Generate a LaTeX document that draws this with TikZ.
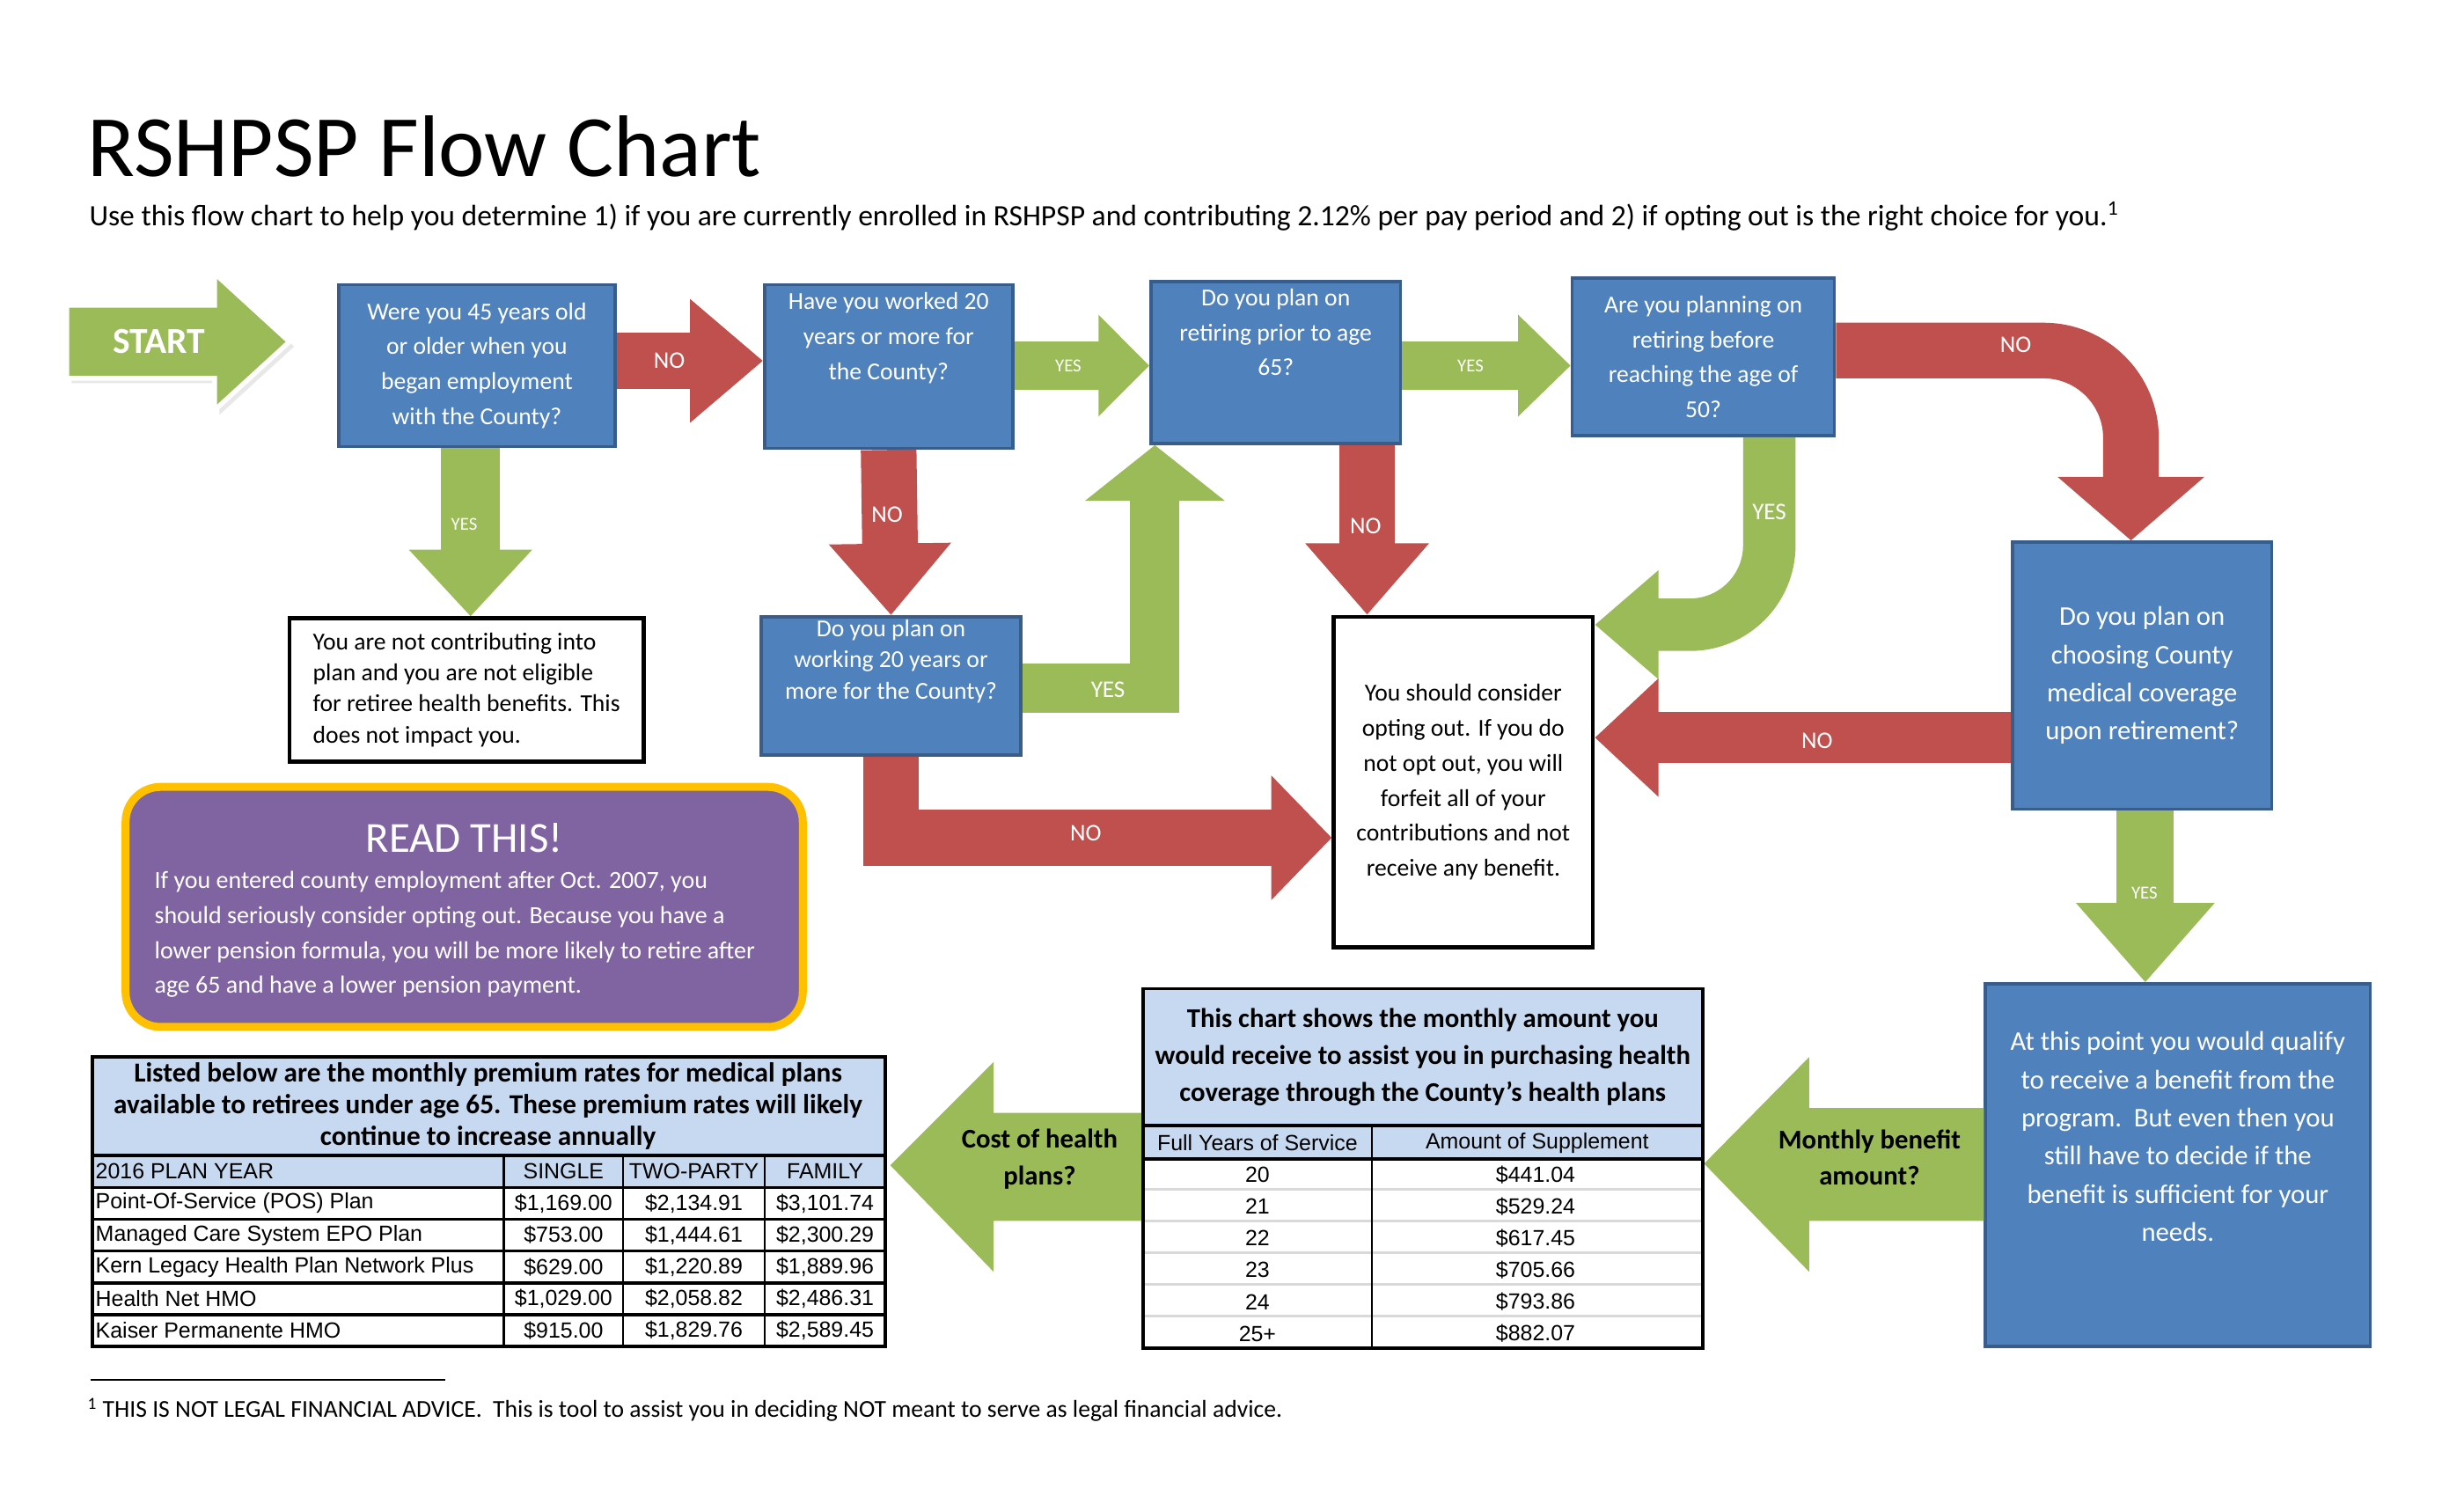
\documentclass[tikz,border=0pt]{standalone}
\usepackage{fontspec}
\setmainfont{Carlito}
\newfontfamily\arialf{Liberation Sans}
\usetikzlibrary{arrows.meta,calc}
\definecolor{qblue}{HTML}{4F81BD}
\definecolor{qborder}{HTML}{385D8A}
\definecolor{rd}{HTML}{C0504D}
\definecolor{gr}{HTML}{9BBB59}
\definecolor{pu}{HTML}{8064A2}
\definecolor{orng}{HTML}{FFC000}
\definecolor{lb}{HTML}{C6D9F1}
\tikzset{
 q/.style={draw=qborder,line width=2pt,fill=qblue,text=white,align=center,inner sep=2pt,font=\fontsize{15.3}{22}\selectfont},
 wb/.style={draw=black,line width=2.5pt,fill=white,align=center,inner sep=2pt,font=\fontsize{15.3}{22}\selectfont},
 rarr/.style={draw=rd,line width=35pt,-{Triangle[length=46pt,width=75pt]}},
 lbl/.style={text=white,font=\fontsize{15}{16}\selectfont},
 slbl/.style={text=white,font=\fontsize{11.5}{12}\selectfont},
 cell/.style={font=\arialf\fontsize{13.8}{15}\selectfont,inner sep=0},
}
\begin{document}
\begin{tikzpicture}[x=1pt,y=-1pt]
\useasboundingbox (0,0) rectangle (1550,941);
\fill[white] (0,0) rectangle (1550,941);
% title
\node[anchor=west,inner sep=0,font=\fontsize{55}{60}\selectfont] (title) at (55,92) {RSHPSP Flow Chart};
\node[anchor=west,inner sep=0,font=\fontsize{18.6}{20}\selectfont] (sub) at (56,136) {Use this flow chart to help you determine 1) if you are currently enrolled in RSHPSP and contributing 2.12\% per pay period and 2) if opting out is the right choice for you.\textsuperscript{1}};
% start arrow
\fill[gray!18] (45,195) -- (138,195) -- (138,175) -- (185,218) -- (138,261) -- (138,241) -- (45,241) -- cycle;
\filldraw[fill=gr,draw=white,line width=3pt] (42,192) -- (135,192) -- (135,172) -- (182,215) -- (135,258) -- (135,238) -- (42,238) -- cycle;
\node[text=white,font=\bfseries\fontsize{23}{24}\selectfont] (start) at (100,215) {START};
% boxes
\node[q,minimum width=174pt,minimum height=102pt] (b1) at (300,230) {Were you 45 years old\\or older when you\\began employment\\with the County?};
\node[q,minimum width=156pt,minimum height=103pt] (b2) at (559,230.5) {Have you worked 20\\years or more for\\the County?\\[16pt]};
\node[q,minimum width=157pt,minimum height=102pt] (b3) at (802.5,228) {Do you plan on\\retiring prior to age\\65?\\[16pt]};
\node[q,minimum width=165pt,minimum height=99pt] (b4) at (1071.5,224.5) {Are you planning on\\retiring before\\reaching the age of\\50?};
\node[wb,minimum width=223pt,minimum height=90pt,align=left,font=\fontsize{15.3}{19.5}\selectfont] (b5) at (293.5,434) {You are not contributing into\\plan and you are not eligible\\for retiree health benefits. This\\does not impact you.};
\node[q,minimum width=163pt,minimum height=85pt,font=\fontsize{15.3}{19.5}\selectfont] (b6) at (560.5,431.5) {Do you plan on\\working 20 years or\\more for the County?\\[14pt]};
\node[wb,minimum width=163pt,minimum height=208pt] (b7) at (920.5,492) {You should consider\\opting out. If you do\\not opt out, you will\\forfeit all of your\\contributions and not\\receive any benefit.};
\node[q,minimum width=163pt,minimum height=168pt,font=\fontsize{17}{24}\selectfont] (b8) at (1347.5,425) {Do you plan on\\choosing County\\medical coverage\\upon retirement?};
\node[q,minimum width=242pt,minimum height=228pt,font=\fontsize{17}{24}\selectfont] (b9) at (1370,733) {At this point you would qualify\\to receive a benefit from the\\program.\ \ But even then you\\still have to decide if the\\benefit is sufficient for your\\needs.\\[12pt]};
% connectors
\draw[rarr] ($(b1.east)+(0,-3)$) -- ($(b2.west)+(0,-3.5)$);
\node[lbl] (n1) at (421,227) {NO};
\draw[gr,line width=30pt,-{Triangle[length=32pt,width=62pt]}] ($(b2.east)+(0,-0.5)$) -- ($(b3.west)+(0,2)$);
\node[slbl] (y2) at (672,230) {YES};
\draw[gr,line width=30pt,-{Triangle[length=33pt,width=62pt]}] ($(b3.east)+(0,2)$) -- ($(b4.west)+(0,5.5)$);
\node[slbl] (y3) at (925,230) {YES};
\draw[gr,line width=37pt,-{Triangle[length=42pt,width=75pt]}] ($(b1.south)+(-4,0)$) -- ($(b5.north)+(2.5,0)$);
\node[slbl] (y1) at (292,330) {YES};
\draw[rarr,-{Triangle[length=45pt,width=74pt]}] (b2.south) -- (b6.north);
\node[lbl] (n2) at (558,324) {NO};
\draw[rarr,-{Triangle[length=45pt,width=75pt]}] ($(b3.south)+(57.5,0)$) -- ($(b7.north)+(-60.5,0)$);
\node[lbl] (n3) at (859,331) {NO};
\draw[rarr,rounded corners=55pt,-{Triangle[length=40pt,width=90pt]}] ($(b4.east)+(0,-4)$) -| ($(b8.north)+(-7,0)$);
\node[lbl] (n4) at (1268,217) {NO};
\draw[gr,line width=33pt,rounded corners=50pt,-{Triangle[length=40pt,width=66pt]}] ($(b4.south)+(41.5,0)$) |- ($(b7.east)+(0,-99)$);
\node[lbl] (y4) at (1113,322) {YES};
\draw[gr,line width=31pt,-{Triangle[length=35pt,width=86pt]}] ($(b6.east)+(0,1.5)$) -| ($(b3.south)+(-76,0)$);
\node[lbl] (y5) at (697,434) {YES};
\draw[rarr,line cap=butt,-{Triangle[length=38pt,width=76pt]}] (b6.south) |- ($(b7.west)+(0,35)$);
\node[lbl] (n5) at (683,524) {NO};
\draw[rarr,line width=32pt,-{Triangle[length=40pt,width=72pt]}] ($(b8.west)+(0,39)$) -- ($(b7.east)+(0,-28)$);
\node[lbl] (n6) at (1143,466) {NO};
\draw[gr,line width=36pt,-{Triangle[length=50pt,width=84pt]}] ($(b8.south)+(2,0)$) -- ($(b9.north)+(-20.5,0)$);
\node[slbl] (y6) at (1349,562) {YES};
% purple box
\node[draw=orng,line width=5pt,fill=pu,rounded corners=22pt,minimum width=426pt,minimum height=151pt] (rd) at (292,570.5) {};
\node[text=white,font=\fontsize{27}{28}\selectfont] (rdt) at (292,527) {READ THIS!};
\node[anchor=north west,text=white,align=left,inner sep=0,font=\fontsize{15.5}{22}\selectfont] (rdb) at (97,548) {If you entered county employment after Oct. 2007, you\\should seriously consider opting out. Because you have a\\lower pension formula, you will be more likely to retire after\\age 65 and have a lower pension payment.};
% big left arrows
\fill[gr] (1248,697) -- (1138,697) -- (1138,665) -- (1072,732) -- (1138,800) -- (1138,768) -- (1248,768) -- cycle;
\node[align=center,font=\bfseries\fontsize{17}{23}\selectfont] (mb) at (1176,728) {Monthly benefit\\amount?};
\fill[gr] (719,700) -- (625,700) -- (625,668) -- (560,733) -- (625,800) -- (625,768) -- (719,768) -- cycle;
\node[align=center,font=\bfseries\fontsize{17}{23}\selectfont] (ch) at (654,729) {Cost of health\\plans?};
% table 2
\fill[lb] (719,622) rectangle (1071,729);
\foreach \yy in {748,768,788,808,828}{\draw[gray!30,line width=1.5pt] (720,\yy) -- (1070,\yy);}
\draw[line width=2pt] (719,622) rectangle (1071,848);
\draw[line width=2pt] (719,708) -- (1071,708);
\draw[line width=2.5pt] (719,729) -- (1071,729);
\draw[line width=1.5pt] (863,708) -- (863,848);
\node[align=center,font=\bfseries\fontsize{17}{23}\selectfont] (t2h) at (895,665) {This chart shows the monthly amount you\\would receive to assist you in purchasing health\\coverage through the County’s health plans};
\node[cell] (t2a) at (791,719) {Full Years of Service};
\node[cell] (t2b) at (967,719) {Amount of Supplement};
\foreach \a/\b [count=\i from 0] in {20/\$441.04,21/\$529.24,22/\$617.45,23/\$705.66,24/\$793.86,25+/\$882.07}{
 \node[cell] at (791,739+20*\i) {\a};
 \node[cell] at (966,739+20*\i) {\b};}
% table 1
\fill[lb] (58,665) rectangle (557,747);
\draw[line width=2pt] (58,665) rectangle (557,847);
\foreach \yy in {727,747,767,787,807,827}{\draw[line width=2pt] (58,\yy) -- (557,\yy);}
\foreach \xx in {317,392,481}{\draw[line width=1.5pt] (\xx,727) -- (\xx,847);}
\node[align=center,font=\bfseries\fontsize{17.3}{20}\selectfont] (t1h) at (307,696) {Listed below are the monthly premium rates for medical plans\\available to retirees under age 65. These premium rates will likely\\continue to increase annually};
\foreach \p/\s/\t/\f [count=\i from 0] in {{2016 PLAN YEAR}/{SINGLE}/{TWO-PARTY}/{FAMILY},{Point-Of-Service (POS) Plan}/{\$1,169.00}/{\$2,134.91}/{\$3,101.74},{Managed Care System EPO Plan}/{\$753.00}/{\$1,444.61}/{\$2,300.29},{Kern Legacy Health Plan Network Plus}/{\$629.00}/{\$1,220.89}/{\$1,889.96},{Health Net HMO}/{\$1,029.00}/{\$2,058.82}/{\$2,486.31},{Kaiser Permanente HMO}/{\$915.00}/{\$1,829.76}/{\$2,589.45}}{
 \node[cell,anchor=west] at (60,737+20*\i) {\p};
 \node[cell] at (354.5,737+20*\i) {\s};
 \node[cell] at (436.5,737+20*\i) {\t};
 \node[cell] at (519,737+20*\i) {\f};}
% footnote
\draw[line width=1pt] (57,868) -- (280,868);
\node[anchor=west,inner sep=0,font=\fontsize{15.3}{16}\selectfont] (fn) at (55,887) {\textsuperscript{1} THIS IS NOT LEGAL FINANCIAL ADVICE.\ \ This is tool to assist you in deciding NOT meant to serve as legal financial advice.};
\end{tikzpicture}
\end{document}
